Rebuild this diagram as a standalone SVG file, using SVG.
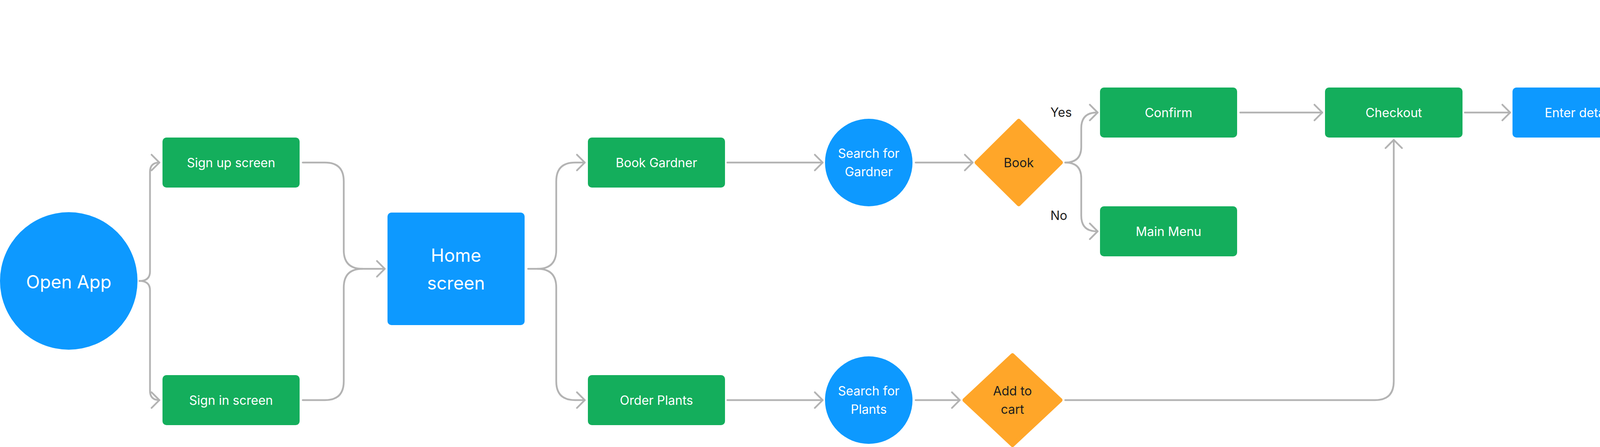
<svg xmlns="http://www.w3.org/2000/svg" width="5728" height="1144" viewBox="0 0 5728 1144">
<style>
.g{fill:#14AE5C}
.b{fill:#0D99FF}
.o{fill:#FFA629;stroke:#FFA629;stroke-width:10;stroke-linejoin:round}
.t{font-family:Inter,"Liberation Sans",sans-serif;font-size:32px;fill:#FFFFFF;text-anchor:middle}
.tl{font-size:46px}
.d{fill:#1E1E1E}
.lab{font-family:Inter,"Liberation Sans",sans-serif;font-size:32px;fill:#1E1E1E}
.c path{fill:none;stroke:#B3B3B3;stroke-width:4.5;stroke-linecap:round;stroke-linejoin:round}
</style>
<rect width="5728" height="1144" fill="#FFFFFF"/>
<g id="connectors" class="c">
<path d="M357,719 Q384,719 384,695 L384,440 Q384,416 408,416"/><path d="M388,396 L408,416 L388,436"/>
<path d="M357,719 Q384,719 384,743 L384,1000 Q384,1024 408,1024"/><path d="M388,1004 L408,1024 L388,1044"/>
<path d="M775,416 L832,416 Q880,416 880,464 L880,640 Q880,688 928,688 L985,688"/>
<path d="M775,1024 L832,1024 Q880,1024 880,976 L880,736 Q880,688 928,688"/><path d="M965,668 L985,688 L965,708"/>
<path d="M1352,688 L1376,688 Q1424,688 1424,640 L1424,464 Q1424,416 1472,416 L1497,416"/><path d="M1477,396 L1497,416 L1477,436"/>
<path d="M1376,688 Q1424,688 1424,736 L1424,976 Q1424,1024 1472,1024 L1497,1024"/><path d="M1477,1004 L1497,1024 L1477,1044"/>
<path d="M1862,416 L2106,416"/><path d="M2086,396 L2106,416 L2086,436"/>
<path d="M1862,1024 L2106,1024"/><path d="M2086,1004 L2106,1024 L2086,1044"/>
<path d="M2344,416 L2490,416"/><path d="M2470,396 L2490,416 L2470,436"/>
<path d="M2344,1024 L2457,1024"/><path d="M2437,1004 L2457,1024 L2437,1044"/>
<path d="M2727,416 Q2768,416 2768,376 L2768,328 Q2768,288 2808,288 L2810,288"/><path d="M2790,268 L2810,288 L2790,308"/>
<path d="M2727,416 Q2768,416 2768,456 L2768,552 Q2768,592 2808,592 L2810,592"/><path d="M2790,572 L2810,592 L2790,612"/>
<path d="M3175,288 L3385,288"/><path d="M3365,268 L3385,288 L3365,308"/>
<path d="M2727,1024 L3520,1024 Q3568,1024 3568,976 L3568,358"/><path d="M3547,379 L3568,358 L3589,379"/>
<path d="M3750,288 L3866,288"/><path d="M3846,268 L3866,288 L3846,308"/>
<path d="M4231,288 L4346,288"/><path d="M4326,268 L4346,288 L4326,308"/>
<path d="M4711,288 L4826,288"/><path d="M4806,268 L4826,288 L4806,308"/>
<path d="M4944,168 L4944,134"/><path d="M4924,154 L4944,134 L4964,154"/>
<path d="M5063,288 L5176,288 Q5216,288 5216,328 Q5216,368 5256,368 L5370,368"/><path d="M5350,348 L5370,368 L5350,388"/>
</g>
<g id="open-app"><circle class="b" cx="176" cy="719" r="176"/><text class="t tl" x="176" y="738">Open App</text></g>
<g id="sign-up"><rect class="g" x="416" y="352" width="351" height="128" rx="10"/><text class="t" x="591.5" y="428">Sign up screen</text></g>
<g id="sign-in"><rect class="g" x="416" y="960" width="351" height="128" rx="10"/><text class="t" x="591.5" y="1036">Sign in screen</text></g>
<g id="home"><rect class="b" x="992" y="544" width="351" height="288" rx="10"/><text class="t tl" x="1167.5" y="670">Home</text><text class="t tl" x="1167.5" y="741">screen</text></g>
<g id="book-gardner"><rect class="g" x="1505" y="352" width="351" height="128" rx="10"/><text class="t" x="1680.5" y="428">Book Gardner</text></g>
<g id="order-plants"><rect class="g" x="1505" y="960" width="351" height="128" rx="10"/><text class="t" x="1680.5" y="1036">Order Plants</text></g>
<g id="search-gardner"><circle class="b" cx="2224" cy="416" r="112"/><text class="t" x="2224" y="404">Search for</text><text class="t" x="2224" y="451">Gardner</text></g>
<g id="search-plants"><circle class="b" cx="2224" cy="1024" r="112"/><text class="t" x="2224" y="1012">Search for</text><text class="t" x="2224" y="1059">Plants</text></g>
<g id="book"><polygon class="o" points="2500,416 2608,309 2716,416 2608,523"/><text class="t d" x="2608" y="428">Book</text></g>
<g id="add-to-cart"><polygon class="o" points="2469,1024 2592,909 2715,1024 2592,1139"/><text class="t d" x="2592" y="1012">Add to</text><text class="t d" x="2592" y="1059">cart</text></g>
<g id="labels-book"><text class="lab" x="2689" y="299">Yes</text><text class="lab" x="2689" y="563">No</text></g>
<g id="confirm"><rect class="g" x="2816" y="224" width="351" height="128" rx="10"/><text class="t" x="2991.5" y="300">Confirm</text></g>
<g id="main-menu"><rect class="g" x="2816" y="528" width="351" height="128" rx="10"/><text class="t" x="2991.5" y="604">Main Menu</text></g>
<g id="checkout"><rect class="g" x="3392" y="224" width="352" height="128" rx="10"/><text class="t" x="3568" y="300">Checkout</text></g>
<g id="enter-details"><rect class="b" x="3872" y="224" width="352" height="128" rx="10"/><text class="t" x="4048" y="300">Enter details</text></g>
<g id="payment"><rect class="g" x="4352" y="224" width="352" height="128" rx="10"/><text class="t" x="4528" y="300">Payment Screen</text></g>
<g id="pay-later"><polygon class="o" points="4837,288 4944,181 5051,288 4944,395"/><text class="t d" x="4944" y="276">Pay</text><text class="t d" x="4944" y="323">Later</text></g>
<g id="enter-details-top"><rect class="g" x="4768" y="0" width="352" height="128" rx="10"/><text class="t" x="4944" y="76">Enter Details</text></g>
<g id="labels-pay"><text class="lab" x="5153" y="260">No</text><text class="lab" x="5153" y="341">Yes</text></g>
<g id="booked"><rect class="g" x="5376" y="224" width="352" height="288" rx="10"/><text class="t" x="5552" y="380">Booked/Ordered</text></g>
</svg>
